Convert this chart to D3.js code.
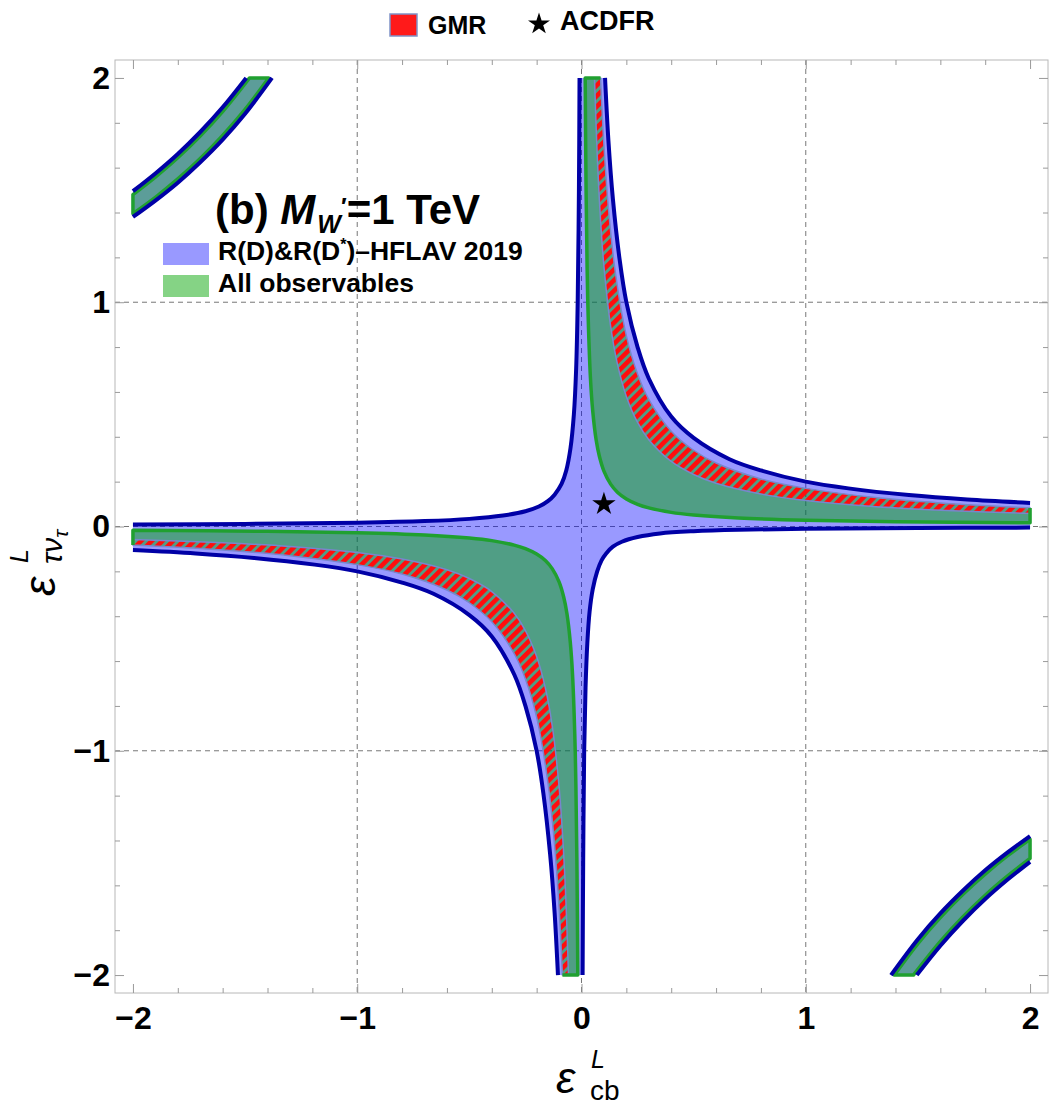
<!DOCTYPE html>
<html>
<head>
<meta charset="utf-8">
<script src="https://cdn.jsdelivr.net/npm/d3@7"></script>
<style>
  body { margin: 0; background: #fff; }
  text { font-family: "Liberation Sans", Arial, sans-serif; }
</style>
</head>
<body>
<svg id="chart" width="1050" height="1105"></svg>
<script>
const TICKS_MAJOR = [-2, -1, 0, 1, 2];
const GRID_LINES = [-1, 0, 1];

// R(D)&R(D*) HFLAV 2019 band edges (navy curves), [eps_cb, eps_taunu]
const rdOuterQ1 = [[0.105, 2], [0.12, 1.72], [0.14, 1.46], [0.17, 1.19], [0.2, 1.0], [0.25, 0.8], [0.3, 0.66], [0.4, 0.49], [0.5, 0.395], [0.66, 0.3], [0.8, 0.25], [1.0, 0.2], [1.19, 0.17], [1.46, 0.14], [1.72, 0.12], [2, 0.105]];
const rdOuterQ3 = [[-0.105, -2], [-0.12, -1.72], [-0.14, -1.46], [-0.17, -1.19], [-0.2, -1.0], [-0.25, -0.8], [-0.3, -0.66], [-0.4, -0.49], [-0.5, -0.395], [-0.66, -0.3], [-0.8, -0.25], [-1.0, -0.2], [-1.19, -0.17], [-1.46, -0.14], [-1.72, -0.12], [-2, -0.105]];
const rdInnerQ2 = [[-2, 0.0088], [-1.5, 0.0115], [-1, 0.017], [-0.7, 0.024], [-0.5, 0.034], [-0.35, 0.049], [-0.25, 0.068], [-0.19, 0.089], [-0.15, 0.113], [-0.12, 0.142], [-0.089, 0.19], [-0.068, 0.25], [-0.049, 0.35], [-0.034, 0.5], [-0.024, 0.7], [-0.017, 1], [-0.0115, 1.5], [-0.0088, 2]];
const rdInnerQ4 = [[2, -0.005], [1.5, -0.0068], [1, -0.0098], [0.7, -0.0145], [0.5, -0.021], [0.35, -0.031], [0.25, -0.047], [0.18, -0.068], [0.14, -0.09], [0.11, -0.12], [0.09, -0.15], [0.07, -0.2], [0.05, -0.28], [0.036, -0.38], [0.026, -0.52], [0.018, -0.72], [0.012, -1], [0.0075, -1.5], [0.005, -2]];
const rdCornerNearQ2 = [[-2, 1.38], [-1.9, 1.453], [-1.8, 1.533], [-1.7, 1.624], [-1.6, 1.725], [-1.5, 1.84], [-1.38, 2]];
const rdCornerFarQ2 = [[-2, 1.495], [-1.9, 1.574], [-1.8, 1.661], [-1.7, 1.759], [-1.6, 1.869], [-1.495, 2]];
const rdCornerNearQ4 = [[2, -1.38], [1.9, -1.453], [1.8, -1.533], [1.7, -1.624], [1.6, -1.725], [1.5, -1.84], [1.38, -2]];
const rdCornerFarQ4 = [[2, -1.495], [1.9, -1.574], [1.8, -1.661], [1.7, -1.759], [1.6, -1.869], [1.495, -2]];

// All observables: inner green curve (outer edge follows the GMR outer edge)
const allInnerQ1 = [[0.0165, 2], [0.02, 1.54], [0.025, 1.155], [0.03, 0.925], [0.04, 0.66], [0.05, 0.516], [0.065, 0.388], [0.08, 0.312], [0.1, 0.247], [0.13, 0.189], [0.16, 0.153], [0.2, 0.123], [0.25, 0.099], [0.3, 0.083], [0.4, 0.063], [0.5, 0.0515], [0.7, 0.038], [1.0, 0.028], [1.4, 0.0215], [2, 0.0165]];
const allInnerQ3 = [[-0.0165, -2], [-0.02, -1.54], [-0.025, -1.155], [-0.03, -0.925], [-0.04, -0.66], [-0.05, -0.516], [-0.065, -0.388], [-0.08, -0.312], [-0.1, -0.247], [-0.13, -0.189], [-0.16, -0.153], [-0.2, -0.123], [-0.25, -0.099], [-0.3, -0.083], [-0.4, -0.063], [-0.5, -0.0515], [-0.7, -0.038], [-1.0, -0.028], [-1.4, -0.0215], [-2, -0.0165]];
const allCornerNearQ2 = [[-2, 1.395], [-1.9, 1.468], [-1.8, 1.55], [-1.7, 1.641], [-1.6, 1.744], [-1.5, 1.86], [-1.395, 2]];
const allCornerFarQ2 = [[-2, 1.48], [-1.9, 1.558], [-1.8, 1.644], [-1.7, 1.741], [-1.6, 1.85], [-1.48, 2]];
const allCornerNearQ4 = [[2, -1.395], [1.9, -1.468], [1.8, -1.55], [1.7, -1.641], [1.6, -1.744], [1.5, -1.86], [1.395, -2]];
const allCornerFarQ4 = [[2, -1.48], [1.9, -1.558], [1.8, -1.644], [1.7, -1.741], [1.6, -1.85], [1.48, -2]];

// GMR band
const gmrOuterQ1 = [[0.085, 2], [0.1, 1.7], [0.12, 1.42], [0.15, 1.14], [0.2, 0.85], [0.25, 0.68], [0.3, 0.567], [0.4, 0.425], [0.5, 0.34], [0.6, 0.283], [0.8, 0.212], [1.0, 0.17], [1.3, 0.13], [1.6, 0.105], [2, 0.083]];
const gmrInnerQ1 = [[0.058, 2], [0.07, 1.657], [0.085, 1.365], [0.1, 1.16], [0.13, 0.892], [0.16, 0.725], [0.2, 0.58], [0.25, 0.464], [0.3, 0.387], [0.4, 0.29], [0.5, 0.232], [0.6, 0.193], [0.8, 0.145], [1.0, 0.116], [1.3, 0.089], [1.6, 0.0725], [2, 0.058]];
const gmrOuterQ3 = [[-0.085, -2], [-0.1, -1.7], [-0.12, -1.42], [-0.15, -1.14], [-0.2, -0.85], [-0.25, -0.68], [-0.3, -0.567], [-0.4, -0.425], [-0.5, -0.34], [-0.6, -0.283], [-0.8, -0.212], [-1.0, -0.17], [-1.3, -0.13], [-1.6, -0.105], [-2, -0.083]];
const gmrInnerQ3 = [[-0.058, -2], [-0.07, -1.657], [-0.085, -1.365], [-0.1, -1.16], [-0.13, -0.892], [-0.16, -0.725], [-0.2, -0.58], [-0.25, -0.464], [-0.3, -0.387], [-0.4, -0.29], [-0.5, -0.232], [-0.6, -0.193], [-0.8, -0.145], [-1.0, -0.116], [-1.3, -0.089], [-1.6, -0.0725], [-2, -0.058]];

const acdfrPoint = [0.1, 0.1];

const NAVY = "#0000a6";
const GREEN_LINE = "#20a030";
const BLUE_FILL = "rgba(0,0,255,0.4)";
const GREEN_FILL = "rgba(0,163,0,0.48)";

const svg = d3.select("#chart");

const x = d3.scaleLinear().domain([-2.08, 2.08]).range([115, 1048]);
const y = d3.scaleLinear().domain([-2.08, 2.08]).range([993, 60]);

const line = d3.line()
    .x(d => x(d[0]))
    .y(d => y(d[1]))
    .curve(d3.curveCatmullRom.alpha(0.5));

// closed region between two curves, joined by straight edges on the plot boundary
const band = (a, b) => line(a) + line(b.slice().reverse()).replace("M", "L") + "Z";
const pt = p => `${x(p[0])},${y(p[1])}`;

const defs = svg.append("defs");
const hatch = defs.append("pattern")
    .attr("id", "gmrHatch")
    .attr("patternUnits", "userSpaceOnUse")
    .attr("width", 7.5)
    .attr("height", 7.5)
    .attr("patternTransform", "rotate(45)");
hatch.append("rect").attr("width", 4.6).attr("height", 7.5).attr("fill", "#ff0d0d");

// grid
svg.append("g").selectAll("line").data(GRID_LINES).enter().append("line")
    .attr("x1", d => x(d)).attr("x2", d => x(d))
    .attr("y1", y(2.08)).attr("y2", y(-2.08))
    .attr("stroke", "#777").attr("stroke-dasharray", "5,4");
svg.append("g").selectAll("line").data(GRID_LINES).enter().append("line")
    .attr("y1", d => y(d)).attr("y2", d => y(d))
    .attr("x1", x(-2.08)).attr("x2", x(2.08))
    .attr("stroke", "#777").attr("stroke-dasharray", "5,4");

// R(D)&R(D*) region
const cross = line(rdInnerQ2)
    + line(rdOuterQ1).replace("M", "L")
    + line(rdInnerQ4).replace("M", "L")
    + line(rdOuterQ3).replace("M", "L") + "Z";
svg.append("path").attr("d", cross).attr("fill", BLUE_FILL);
svg.append("path").attr("d", band(rdCornerNearQ2, rdCornerFarQ2)).attr("fill", BLUE_FILL);
svg.append("path").attr("d", band(rdCornerNearQ4, rdCornerFarQ4)).attr("fill", BLUE_FILL);

// All observables region
[[allInnerQ1, gmrOuterQ1], [allInnerQ3, gmrOuterQ3]].forEach(([inner, outer]) => {
  svg.append("path").attr("d", band(inner, outer)).attr("fill", GREEN_FILL);
});
[[allCornerNearQ2, allCornerFarQ2], [allCornerNearQ4, allCornerFarQ4]].forEach(([a, b]) => {
  svg.append("path").attr("d", band(a, b))
      .attr("fill", "rgba(0,163,0,0.4)").attr("stroke", GREEN_LINE).attr("stroke-width", 3.5)
      .attr("stroke-linejoin", "round");
});

// GMR hatched band
[[gmrInnerQ1, gmrOuterQ1], [gmrInnerQ3, gmrOuterQ3]].forEach(([inner, outer]) => {
  svg.append("path").attr("d", band(inner, outer))
      .attr("fill", "url(#gmrHatch)").attr("stroke", "#7787cc").attr("stroke-width", 1.5);
});

// green boundary lines
[[allInnerQ1, gmrOuterQ1], [allInnerQ3, gmrOuterQ3]].forEach(([inner, outer]) => {
  const d = `M${pt(outer[0])}` + line(inner).replace("M", "L") + `L${pt(outer[outer.length - 1])}`;
  svg.append("path").attr("d", d)
      .attr("fill", "none").attr("stroke", GREEN_LINE).attr("stroke-width", 3.5)
      .attr("stroke-linejoin", "round");
});

// navy boundary lines
[rdOuterQ1, rdOuterQ3, rdInnerQ2, rdInnerQ4, rdCornerNearQ2, rdCornerFarQ2, rdCornerNearQ4, rdCornerFarQ4]
  .forEach(c => {
    svg.append("path").attr("d", line(c))
        .attr("fill", "none").attr("stroke", NAVY).attr("stroke-width", 4);
  });

// ACDFR point
svg.append("path")
    .attr("d", d3.symbol(d3.symbolStar, 170)())
    .attr("transform", `translate(${x(acdfrPoint[0])},${y(acdfrPoint[1])})`)
    .attr("fill", "#000");

// frame and ticks
svg.append("rect")
    .attr("x", x(-2.08)).attr("y", y(2.08))
    .attr("width", x(2.08) - x(-2.08)).attr("height", y(-2.08) - y(2.08))
    .attr("fill", "none").attr("stroke", "#b8b8b8");

const minorX = x.ticks(20).filter(v => !TICKS_MAJOR.includes(v));
const minorY = y.ticks(20).filter(v => !TICKS_MAJOR.includes(v));

function frameAxis(axis, transform, values, size, labelled, pad) {
  const g = svg.append("g").attr("transform", transform)
      .call(axis.tickValues(values).tickSize(-size).tickPadding(pad)
        .tickFormat(labelled ? d3.format("d") : ""));
  g.select(".domain").remove();
  g.selectAll(".tick line").attr("stroke", "#9a9a9a");
  g.selectAll(".tick text")
      .attr("fill", "#000").attr("font-size", 32).attr("font-weight", "bold")
      .attr("font-family", "'Liberation Sans', Arial, sans-serif");
  return g;
}
frameAxis(d3.axisBottom(x), `translate(0,${y(-2.08)})`, TICKS_MAJOR, 9, true, 13);
frameAxis(d3.axisBottom(x), `translate(0,${y(-2.08)})`, minorX, 5, false, 0);
frameAxis(d3.axisTop(x), `translate(0,${y(2.08)})`, TICKS_MAJOR, 9, false, 0);
frameAxis(d3.axisTop(x), `translate(0,${y(2.08)})`, minorX, 5, false, 0);
frameAxis(d3.axisLeft(y), `translate(${x(-2.08)},0)`, TICKS_MAJOR, 9, true, 5);
frameAxis(d3.axisLeft(y), `translate(${x(-2.08)},0)`, minorY, 5, false, 0);
frameAxis(d3.axisRight(y), `translate(${x(2.08)},0)`, TICKS_MAJOR, 9, false, 0);
frameAxis(d3.axisRight(y), `translate(${x(2.08)},0)`, minorY, 5, false, 0);

// axis titles
const xt = svg.append("g");
xt.append("text").attr("x", 556).attr("y", 1093).attr("font-size", 44).attr("font-style", "italic").text("ε");
xt.append("text").attr("x", 590).attr("y", 1100).attr("font-size", 28).text("cb");
xt.append("text").attr("x", 591).attr("y", 1068).attr("font-size", 25).attr("font-style", "italic").text("L");

const yt = svg.append("g").attr("transform", "translate(55,0) rotate(-90)");
yt.append("text").attr("x", -596).attr("y", 0).attr("font-size", 44).attr("font-style", "italic").text("ε");
const ysub = yt.append("text").attr("x", -564).attr("y", 7).attr("font-size", 30).attr("font-style", "italic");
ysub.append("tspan").text("τν");
ysub.append("tspan").attr("font-size", 21).attr("dy", 6).text("τ");
yt.append("text").attr("x", -563).attr("y", -27).attr("font-size", 25).attr("font-style", "italic").text("L");

// panel title
const title = svg.append("text").attr("x", 215).attr("y", 224)
    .attr("font-size", 42).attr("font-weight", "bold");
title.append("tspan").text("(b) ");
title.append("tspan").attr("font-style", "italic").text("M");
title.append("tspan").attr("font-style", "italic").attr("font-size", 25).attr("dx", 2).attr("dy", 9).text("W");
title.append("tspan").attr("font-size", 24).attr("dy", -18).text("′");
title.append("tspan").attr("dy", 9).text("=1 TeV");

// inner legend
svg.append("rect").attr("x", 163).attr("y", 243).attr("width", 46).attr("height", 22).attr("fill", "#9999ff");
svg.append("rect").attr("x", 163).attr("y", 275).attr("width", 46).attr("height", 22).attr("fill", "#85d385");
const l1 = svg.append("text").attr("x", 218).attr("y", 260).attr("font-size", 26.5).attr("font-weight", "bold");
l1.append("tspan").text("R(D)&R(D");
l1.append("tspan").attr("font-size", 16).attr("dy", -10).text("*");
l1.append("tspan").attr("dy", 10).text(")–HFLAV 2019");
svg.append("text").attr("x", 218).attr("y", 292).attr("font-size", 26.5).attr("font-weight", "bold").text("All observables");

// top legend
svg.append("rect").attr("x", 390).attr("y", 14).attr("width", 27).attr("height", 22)
    .attr("fill", "#ff1a1a").attr("stroke", "#7f93c8").attr("stroke-width", 1.5);
svg.append("text").attr("x", 428).attr("y", 34).attr("font-size", 25).attr("font-weight", "bold").text("GMR");
svg.append("path").attr("d", d3.symbol(d3.symbolStar, 150)()).attr("transform", "translate(539,24)").attr("fill", "#000");
svg.append("text").attr("x", 560).attr("y", 30).attr("font-size", 27).attr("font-weight", "bold").text("ACDFR");
</script>
</body>
</html>
